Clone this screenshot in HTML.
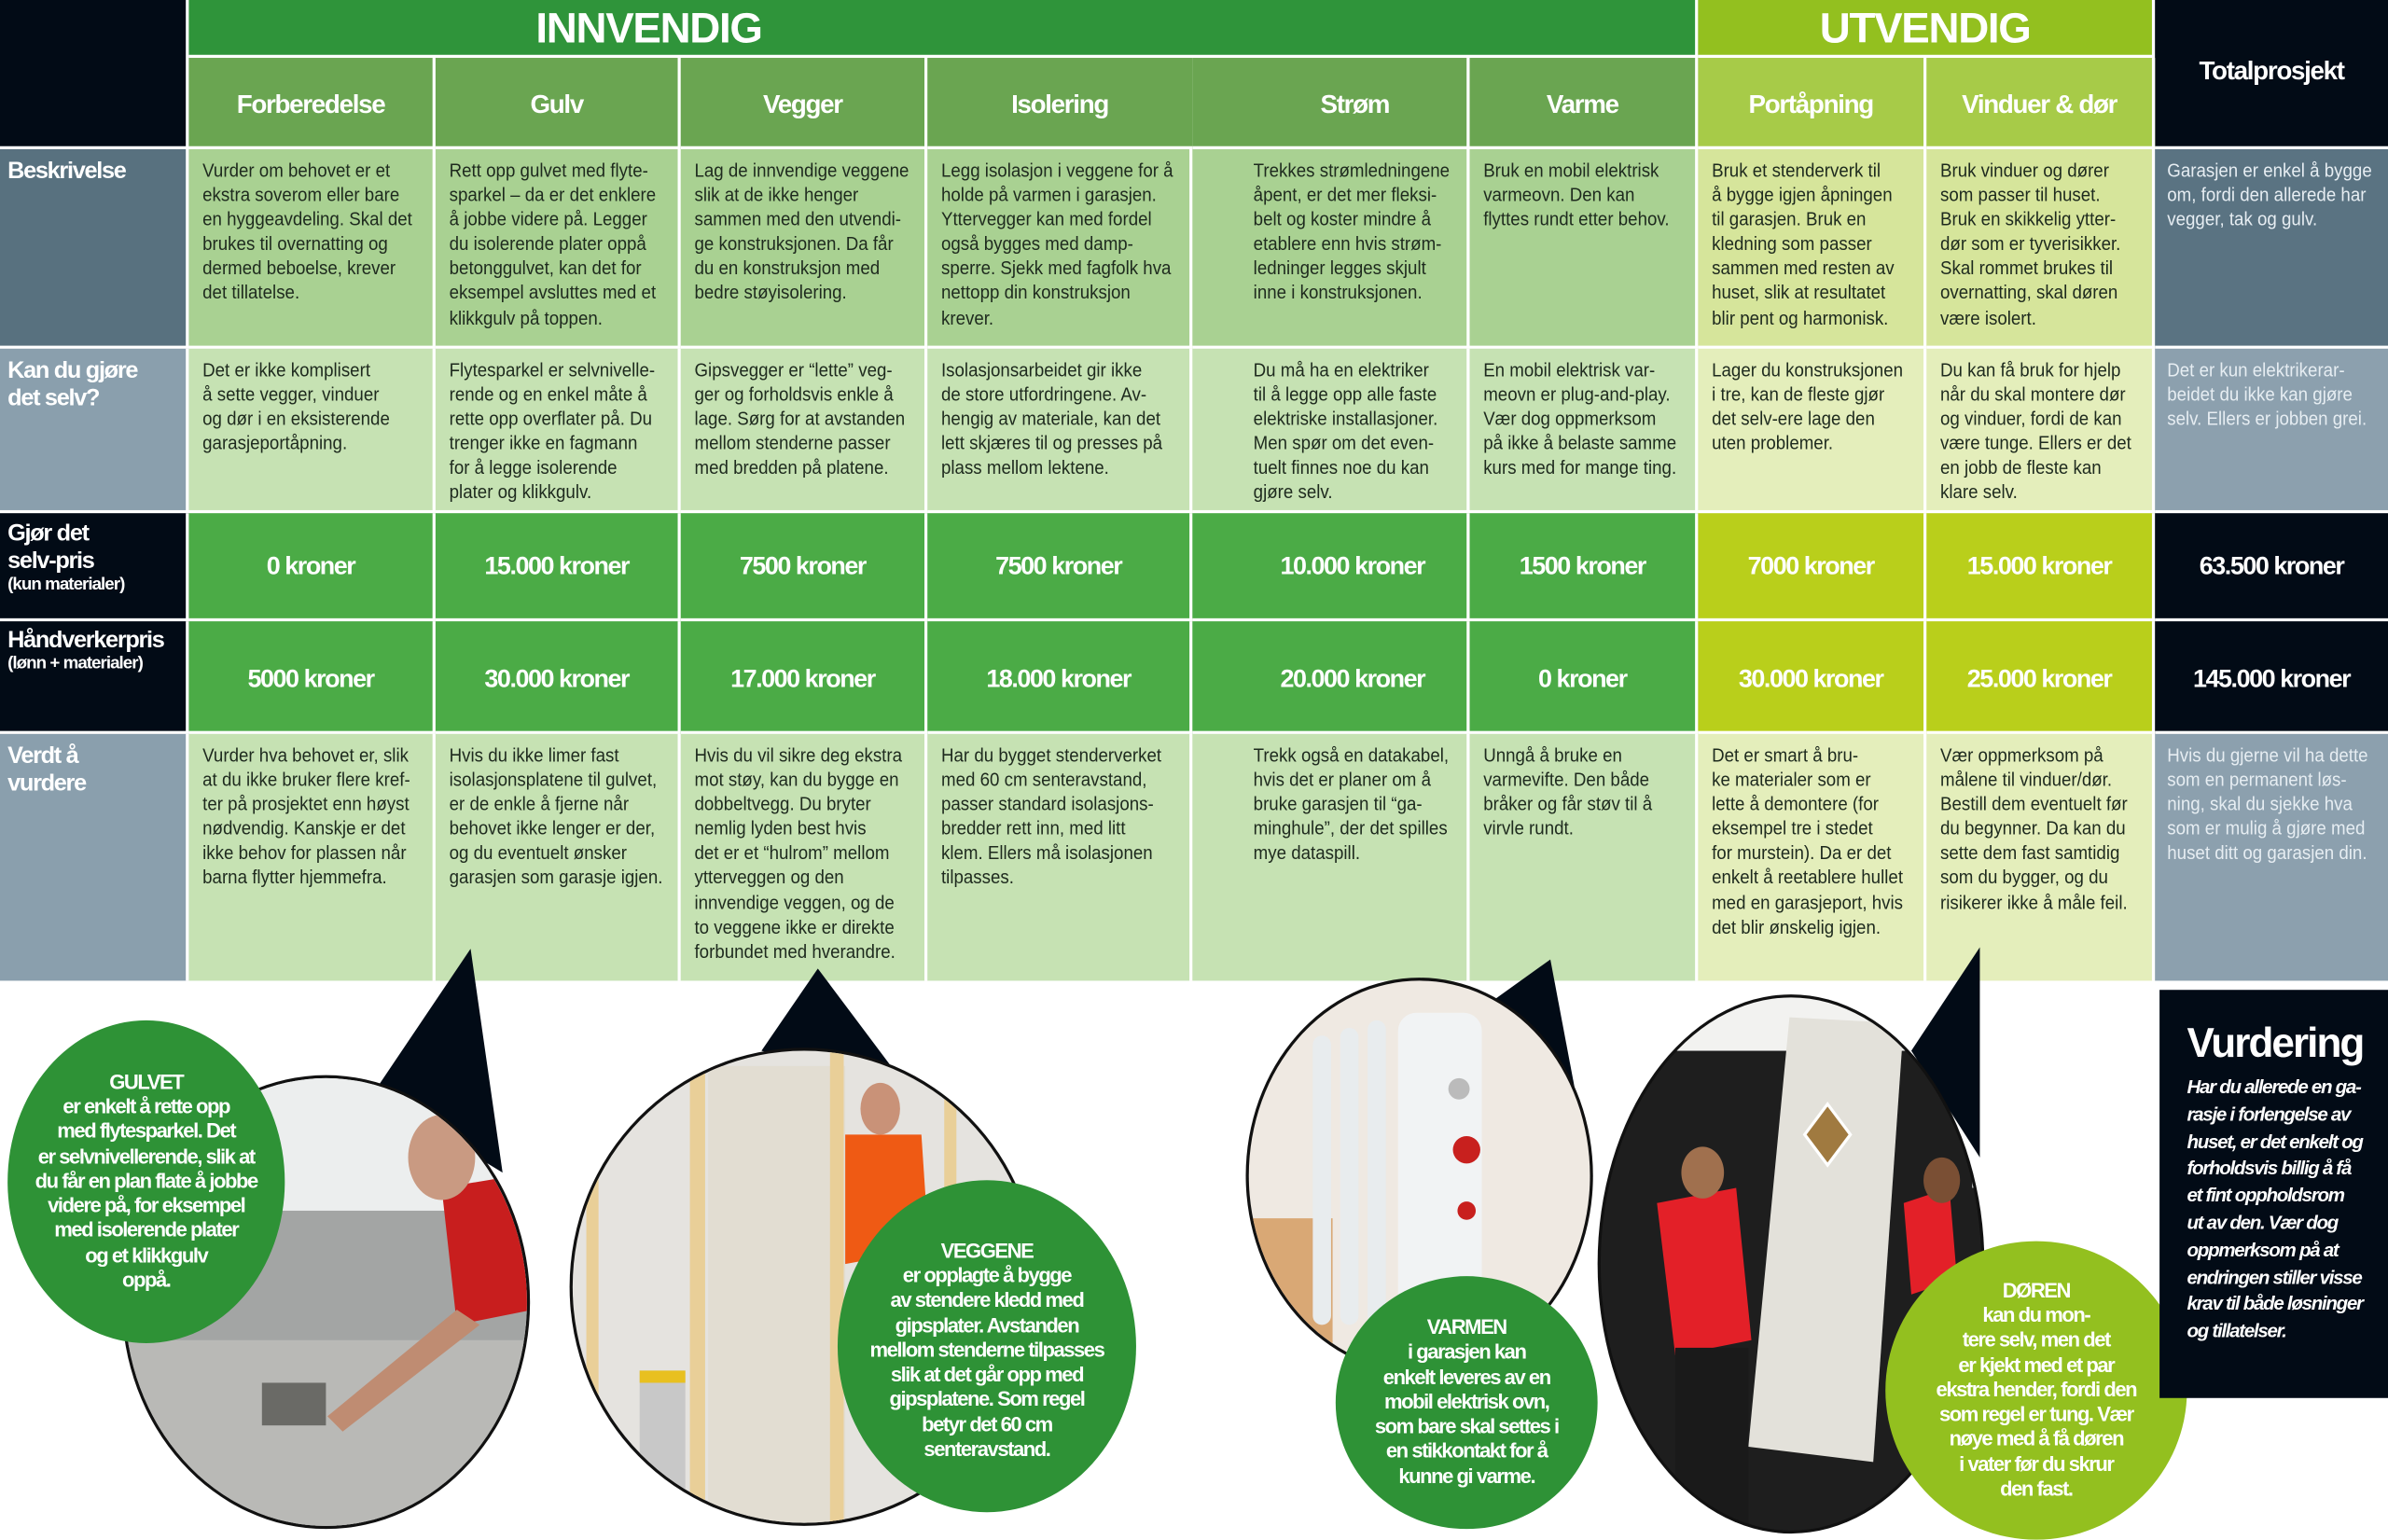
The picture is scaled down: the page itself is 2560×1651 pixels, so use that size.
<!DOCTYPE html>
<html><head><meta charset="utf-8">
<style>
html,body{margin:0;padding:0;background:#fff;}
body{width:2560px;height:1649px;overflow:hidden;position:relative;}
#w{position:absolute;left:0;top:0;width:1568px;height:1010px;transform:scale(1.63265);transform-origin:0 0;font-family:"Liberation Sans",sans-serif;}
.c{position:absolute;box-sizing:border-box;border-right:2px solid #fff;border-bottom:2px solid #fff;overflow:hidden;}
.t{font-size:12.6px;line-height:16.1px;color:#1e2a1e;padding:6px 0 0 9px;white-space:nowrap;}
.tw{font-size:12.6px;line-height:16.1px;color:#e6edf2;padding:6px 0 0 8px;white-space:nowrap;}
.s{display:inline-block;transform:scaleX(0.91);transform-origin:0 0;}
.h{color:#fff;font-weight:bold;font-size:17px;text-align:center;letter-spacing:-0.8px;}
.p{color:#fff;font-weight:bold;font-size:16.5px;text-align:center;letter-spacing:-0.9px;}
.l{color:#fff;font-weight:bold;font-size:15.5px;line-height:18px;padding:6px 0 0 5px;letter-spacing:-0.8px;}
.l small{font-size:11.5px;display:block;line-height:13px;letter-spacing:-0.6px;}
.bub{position:absolute;border-radius:50%;color:#fff;font-weight:bold;text-align:center;font-size:13.5px;line-height:16.3px;display:flex;flex-direction:column;justify-content:center;letter-spacing:-0.9px;}
</style></head><body><div id="w">

<div class="c" style="left:0;top:0;width:124px;height:98px;background:#020b16"></div>
<div class="c h" style="left:124px;top:0;width:991px;height:38px;background:#2f943a;font-size:28px;line-height:38px;padding-right:385px;">INNVENDIG</div>
<div class="c h" style="left:1115px;top:0;width:300px;height:38px;background:#93c01f;font-size:28px;line-height:38px;">UTVENDIG</div>
<div class="c h" style="left:1415px;top:0;width:153px;height:98px;background:#020b16;border-right:0;line-height:94px;">Totalprosjekt</div>

<div class="c h" style="left:124px;top:38px;width:162px;height:60px;line-height:62px;background:#6aa551">Forberedelse</div>
<div class="c h" style="left:286px;top:38px;width:161px;height:60px;line-height:62px;background:#6aa551">Gulv</div>
<div class="c h" style="left:447px;top:38px;width:162px;height:60px;line-height:62px;background:#6aa551">Vegger</div>
<div class="c h" style="left:609px;top:38px;width:174px;height:60px;line-height:62px;background:#6aa551;border-right:0;text-align:left;padding-left:55px">Isolering</div>
<div class="c h" style="left:783px;top:38px;width:182px;height:60px;line-height:62px;background:#6aa551;text-align:left;padding-left:84px">Strøm</div>
<div class="c h" style="left:965px;top:38px;width:150px;height:60px;line-height:62px;background:#6aa551">Varme</div>
<div class="c h" style="left:1115px;top:38px;width:150px;height:60px;line-height:62px;background:#a7cb48">Portåpning</div>
<div class="c h" style="left:1265px;top:38px;width:150px;height:60px;line-height:62px;background:#a7cb48">Vinduer &amp; dør</div>

<div class="c l" style="left:0;top:98px;width:124px;height:131px;background:#58717f">Beskrivelse</div>
<div class="c t" style="left:124px;top:98px;width:162px;height:131px;background:#a9d192"><span class="s">Vurder om behovet er et<br>ekstra soverom eller bare<br>en hyggeavdeling. Skal det<br>brukes til overnatting og<br>dermed beboelse, krever<br>det tillatelse.</span></div>
<div class="c t" style="left:286px;top:98px;width:161px;height:131px;background:#a9d192"><span class="s">Rett opp gulvet med flyte-<br>sparkel – da er det enklere<br>å jobbe videre på. Legger<br>du isolerende plater oppå<br>betonggulvet, kan det for<br>eksempel avsluttes med et<br>klikkgulv på toppen.</span></div>
<div class="c t" style="left:447px;top:98px;width:162px;height:131px;background:#a9d192"><span class="s">Lag de innvendige veggene<br>slik at de ikke henger<br>sammen med den utvendi-<br>ge konstruksjonen. Da får<br>du en konstruksjon med<br>bedre støyisolering.</span></div>
<div class="c t" style="left:609px;top:98px;width:174px;height:131px;background:#a9d192"><span class="s">Legg isolasjon i veggene for å<br>holde på varmen i garasjen.<br>Yttervegger kan med fordel<br>også bygges med damp-<br>sperre. Sjekk med fagfolk hva<br>nettopp din konstruksjon<br>krever.</span></div>
<div class="c t" style="left:783px;top:98px;width:182px;height:131px;background:#a9d192;padding-left:40px"><span class="s">Trekkes strømledningene<br>åpent, er det mer fleksi-<br>belt og koster mindre å<br>etablere enn hvis strøm-<br>ledninger legges skjult<br>inne i konstruksjonen.</span></div>
<div class="c t" style="left:965px;top:98px;width:150px;height:131px;background:#a9d192"><span class="s">Bruk en mobil elektrisk<br>varmeovn. Den kan<br>flyttes rundt etter behov.</span></div>
<div class="c t" style="left:1115px;top:98px;width:150px;height:131px;background:#d6e59b"><span class="s">Bruk et stenderverk til<br>å bygge igjen åpningen<br>til garasjen. Bruk en<br>kledning som passer<br>sammen med resten av<br>huset, slik at resultatet<br>blir pent og harmonisk.</span></div>
<div class="c t" style="left:1265px;top:98px;width:150px;height:131px;background:#d6e59b"><span class="s">Bruk vinduer og dører<br>som passer til huset.<br>Bruk en skikkelig ytter-<br>dør som er tyverisikker.<br>Skal rommet brukes til<br>overnatting, skal døren<br>være isolert.</span></div>
<div class="c tw" style="left:1415px;top:98px;width:153px;height:131px;background:#5a7382;border-right:0"><span class="s">Garasjen er enkel å bygge<br>om, fordi den allerede har<br>vegger, tak og gulv.</span></div>

<div class="c l" style="left:0;top:229px;width:124px;height:108px;background:#8a9fad">Kan du gjøre<br>det selv?</div>
<div class="c t" style="left:124px;top:229px;width:162px;height:108px;background:#c6e2b3"><span class="s">Det er ikke komplisert<br>å sette vegger, vinduer<br>og dør i en eksisterende<br>garasjeportåpning.</span></div>
<div class="c t" style="left:286px;top:229px;width:161px;height:108px;background:#c6e2b3"><span class="s">Flytesparkel er selvnivelle-<br>rende og en enkel måte å<br>rette opp overflater på. Du<br>trenger ikke en fagmann<br>for å legge isolerende<br>plater og klikkgulv.</span></div>
<div class="c t" style="left:447px;top:229px;width:162px;height:108px;background:#c6e2b3"><span class="s">Gipsvegger er “lette” veg-<br>ger og forholdsvis enkle å<br>lage. Sørg for at avstanden<br>mellom stenderne passer<br>med bredden på platene.</span></div>
<div class="c t" style="left:609px;top:229px;width:174px;height:108px;background:#c6e2b3"><span class="s">Isolasjonsarbeidet gir ikke<br>de store utfordringene. Av-<br>hengig av materiale, kan det<br>lett skjæres til og presses på<br>plass mellom lektene.</span></div>
<div class="c t" style="left:783px;top:229px;width:182px;height:108px;background:#c6e2b3;padding-left:40px"><span class="s">Du må ha en elektriker<br>til å legge opp alle faste<br>elektriske installasjoner.<br>Men spør om det even-<br>tuelt finnes noe du kan<br>gjøre selv.</span></div>
<div class="c t" style="left:965px;top:229px;width:150px;height:108px;background:#c6e2b3"><span class="s">En mobil elektrisk var-<br>meovn er plug-and-play.<br>Vær dog oppmerksom<br>på ikke å belaste samme<br>kurs med for mange ting.</span></div>
<div class="c t" style="left:1115px;top:229px;width:150px;height:108px;background:#e4eebb"><span class="s">Lager du konstruksjonen<br>i tre, kan de fleste gjør<br>det selv-ere lage den<br>uten problemer.</span></div>
<div class="c t" style="left:1265px;top:229px;width:150px;height:108px;background:#e4eebb"><span class="s">Du kan få bruk for hjelp<br>når du skal montere dør<br>og vinduer, fordi de kan<br>være tunge. Ellers er det<br>en jobb de fleste kan<br>klare selv.</span></div>
<div class="c tw" style="left:1415px;top:229px;width:153px;height:108px;background:#8ca0ae;border-right:0"><span class="s">Det er kun elektrikerar-<br>beidet du ikke kan gjøre<br>selv. Ellers er jobben grei.</span></div>

<div class="c l" style="left:0;top:337px;width:124px;height:71px;background:#020b16;padding-top:5px">Gjør det<br>selv-pris<small>(kun materialer)</small></div>
<div class="c p" style="left:124px;top:337px;width:162px;height:71px;line-height:71px;background:#4bab46">0 kroner</div>
<div class="c p" style="left:286px;top:337px;width:161px;height:71px;line-height:71px;background:#4bab46">15.000 kroner</div>
<div class="c p" style="left:447px;top:337px;width:162px;height:71px;line-height:71px;background:#4bab46">7500 kroner</div>
<div class="c p" style="left:609px;top:337px;width:174px;height:71px;line-height:71px;background:#4bab46">7500 kroner</div>
<div class="c p" style="left:783px;top:337px;width:182px;height:71px;line-height:71px;background:#4bab46;padding-left:30px">10.000 kroner</div>
<div class="c p" style="left:965px;top:337px;width:150px;height:71px;line-height:71px;background:#4bab46">1500 kroner</div>
<div class="c p" style="left:1115px;top:337px;width:150px;height:71px;line-height:71px;background:#b9cf1b">7000 kroner</div>
<div class="c p" style="left:1265px;top:337px;width:150px;height:71px;line-height:71px;background:#b9cf1b">15.000 kroner</div>
<div class="c p" style="left:1415px;top:337px;width:153px;height:71px;line-height:71px;background:#020b16;border-right:0">63.500 kroner</div>

<div class="c l" style="left:0;top:408px;width:124px;height:74px;background:#020b16;padding-top:4px">Håndverkerpris<small>(lønn + materialer)</small></div>
<div class="c p" style="left:124px;top:408px;width:162px;height:74px;line-height:76px;background:#4bab46">5000 kroner</div>
<div class="c p" style="left:286px;top:408px;width:161px;height:74px;line-height:76px;background:#4bab46">30.000 kroner</div>
<div class="c p" style="left:447px;top:408px;width:162px;height:74px;line-height:76px;background:#4bab46">17.000 kroner</div>
<div class="c p" style="left:609px;top:408px;width:174px;height:74px;line-height:76px;background:#4bab46">18.000 kroner</div>
<div class="c p" style="left:783px;top:408px;width:182px;height:74px;line-height:76px;background:#4bab46;padding-left:30px">20.000 kroner</div>
<div class="c p" style="left:965px;top:408px;width:150px;height:74px;line-height:76px;background:#4bab46">0 kroner</div>
<div class="c p" style="left:1115px;top:408px;width:150px;height:74px;line-height:76px;background:#b9cf1b">30.000 kroner</div>
<div class="c p" style="left:1265px;top:408px;width:150px;height:74px;line-height:76px;background:#b9cf1b">25.000 kroner</div>
<div class="c p" style="left:1415px;top:408px;width:153px;height:74px;line-height:76px;background:#020b16;border-right:0">145.000 kroner</div>

<div class="c l" style="left:0;top:482px;width:124px;height:162px;background:#8a9fad;border-bottom:0">Verdt å<br>vurdere</div>
<div class="c t" style="left:124px;top:482px;width:162px;height:162px;background:#c6e2b3;border-bottom:0"><span class="s">Vurder hva behovet er, slik<br>at du ikke bruker flere kref-<br>ter på prosjektet enn høyst<br>nødvendig. Kanskje er det<br>ikke behov for plassen når<br>barna flytter hjemmefra.</span></div>
<div class="c t" style="left:286px;top:482px;width:161px;height:162px;background:#c6e2b3;border-bottom:0"><span class="s">Hvis du ikke limer fast<br>isolasjonsplatene til gulvet,<br>er de enkle å fjerne når<br>behovet ikke lenger er der,<br>og du eventuelt ønsker<br>garasjen som garasje igjen.</span></div>
<div class="c t" style="left:447px;top:482px;width:162px;height:162px;background:#c6e2b3;border-bottom:0"><span class="s">Hvis du vil sikre deg ekstra<br>mot støy, kan du bygge en<br>dobbeltvegg. Du bryter<br>nemlig lyden best hvis<br>det er et “hulrom” mellom<br>ytterveggen og den<br>innvendige veggen, og de<br>to veggene ikke er direkte<br>forbundet med hverandre.</span></div>
<div class="c t" style="left:609px;top:482px;width:174px;height:162px;background:#c6e2b3;border-bottom:0"><span class="s">Har du bygget stenderverket<br>med 60 cm senteravstand,<br>passer standard isolasjons-<br>bredder rett inn, med litt<br>klem. Ellers må isolasjonen<br>tilpasses.</span></div>
<div class="c t" style="left:783px;top:482px;width:182px;height:162px;background:#c6e2b3;border-bottom:0;padding-left:40px"><span class="s">Trekk også en datakabel,<br>hvis det er planer om å<br>bruke garasjen til “ga-<br>minghule”, der det spilles<br>mye dataspill.</span></div>
<div class="c t" style="left:965px;top:482px;width:150px;height:162px;background:#c6e2b3;border-bottom:0"><span class="s">Unngå å bruke en<br>varmevifte. Den både<br>bråker og får støv til å<br>virvle rundt.</span></div>
<div class="c t" style="left:1115px;top:482px;width:150px;height:162px;background:#e4eebb;border-bottom:0"><span class="s">Det er smart å bru-<br>ke materialer som er<br>lette å demontere (for<br>eksempel tre i stedet<br>for murstein). Da er det<br>enkelt å reetablere hullet<br>med en garasjeport, hvis<br>det blir ønskelig igjen.</span></div>
<div class="c t" style="left:1265px;top:482px;width:150px;height:162px;background:#e4eebb;border-bottom:0"><span class="s">Vær oppmerksom på<br>målene til vinduer/dør.<br>Bestill dem eventuelt før<br>du begynner. Da kan du<br>sette dem fast samtidig<br>som du bygger, og du<br>risikerer ikke å måle feil.</span></div>
<div class="c tw" style="left:1415px;top:482px;width:153px;height:162px;background:#8ca0ae;border-right:0;border-bottom:0"><span class="s">Hvis du gjerne vil ha dette<br>som en permanent løs-<br>ning, skal du sjekke hva<br>som er mulig å gjøre med<br>huset ditt og garasjen din.</span></div>

<svg style="position:absolute;left:0;top:0" width="1568" height="1010" viewBox="0 0 1568 1010">
<defs>
<clipPath id="e1"><ellipse cx="214" cy="855" rx="132" ry="147"/></clipPath>
<clipPath id="e2"><ellipse cx="528" cy="845" rx="152" ry="155"/></clipPath>
<clipPath id="e3"><ellipse cx="932" cy="772" rx="112" ry="128"/></clipPath>
<clipPath id="e4"><ellipse cx="1176" cy="830" rx="125" ry="175"/></clipPath>
</defs>
<polygon points="309,623 245,718 330,770" fill="#020b16"/>
<polygon points="537,636 500,690 600,720" fill="#020b16"/>
<polygon points="1018,630 965,668 1035,720" fill="#020b16"/>
<polygon points="1300,622 1255,690 1300,760" fill="#020b16"/>
<ellipse cx="214" cy="855" rx="134" ry="149" fill="#111"/>
<g clip-path="url(#e1)">
<rect x="70" y="700" width="290" height="310" fill="#d9dcdc"/>
<rect x="70" y="700" width="290" height="95" fill="#eceeee"/>
<rect x="70" y="795" width="290" height="220" fill="#a3a5a4"/>
<rect x="70" y="880" width="290" height="130" fill="#b9b9b6"/>
<path d="M290,780 L350,770 L350,860 L300,870 Z" fill="#c81e1e"/>
<ellipse cx="290" cy="760" rx="22" ry="28" fill="#c99a82"/>
<path d="M300,860 L215,930 L225,940 L315,870 Z" fill="#bf8c72"/>
<rect x="172" y="908" width="42" height="28" fill="#6a6a66"/>
</g>
<ellipse cx="528" cy="845" rx="154" ry="157" fill="#111"/>
<g clip-path="url(#e2)">
<rect x="370" y="685" width="320" height="320" fill="#e5e3df"/>
<rect x="465" y="700" width="90" height="305" fill="#e2ddd2"/>
<rect x="453" y="690" width="10" height="320" fill="#e9cf98"/>
<rect x="545" y="690" width="9" height="320" fill="#e9cf98"/>
<rect x="385" y="690" width="8" height="320" fill="#e9cf98"/>
<rect x="620" y="690" width="8" height="320" fill="#e9cf98"/>
<path d="M555,745 L605,745 L610,820 L555,830 Z" fill="#ef5a14"/>
<ellipse cx="578" cy="728" rx="13" ry="17" fill="#c99278"/>
<rect x="420" y="900" width="30" height="80" fill="#c8c8c8"/>
<rect x="420" y="900" width="30" height="8" fill="#e8c020"/>
</g>
<ellipse cx="932" cy="772" rx="114" ry="130" fill="#111"/>
<g clip-path="url(#e3)">
<rect x="815" y="640" width="240" height="270" fill="#efe9e2"/>
<rect x="815" y="800" width="60" height="110" fill="#d9a875"/>
<rect x="862" y="680" width="12" height="190" rx="6" fill="#e8ecee"/>
<rect x="880" y="675" width="12" height="195" rx="6" fill="#e8ecee"/>
<rect x="898" y="670" width="12" height="200" rx="6" fill="#e8ecee"/>
<rect x="918" y="665" width="55" height="200" rx="12" fill="#f1f3f4"/>
<circle cx="963" cy="755" r="9" fill="#c8201e"/>
<circle cx="963" cy="795" r="6" fill="#c8201e"/>
<circle cx="958" cy="715" r="7" fill="#bbb"/>
</g>
<ellipse cx="1176" cy="830" rx="127" ry="177" fill="#111"/>
<g clip-path="url(#e4)">
<rect x="1045" y="650" width="265" height="360" fill="#1e1e1e"/>
<rect x="1045" y="650" width="265" height="40" fill="#f2f2f0"/>
<rect x="1295" y="700" width="50" height="80" fill="#e8ecec"/>
<polygon points="1175,668 1250,672 1230,960 1148,950" fill="#e3e1da"/>
<polygon points="1200,725 1215,745 1200,765 1185,745" fill="#a07a40" stroke="#fff" stroke-width="2"/>
<path d="M1088,790 L1140,780 L1150,880 L1100,890 Z" fill="#e32028"/>
<ellipse cx="1118" cy="770" rx="14" ry="17" fill="#a0704e"/>
<rect x="1100" y="885" width="48" height="125" fill="#1a1a1a"/>
<path d="M1250,790 L1280,780 L1285,840 L1255,850 Z" fill="#e32028"/>
<ellipse cx="1275" cy="775" rx="12" ry="15" fill="#7a4f34"/>
</g>
</svg>

<div class="bub" style="left:5px;top:670px;width:182px;height:212px;background:#2e9236;">GULVET<br>er enkelt å rette opp<br>med flytesparkel. Det<br>er selvnivellerende, slik at<br>du får en plan flate å jobbe<br>videre på, for eksempel<br>med isolerende plater<br>og et klikkgulv<br>oppå.</div>
<div class="bub" style="left:550px;top:775px;width:196px;height:218px;background:#2e9236;padding-top:6px;box-sizing:border-box">VEGGENE<br>er opplagte å bygge<br>av stendere kledd med<br>gipsplater. Avstanden<br>mellom stenderne tilpasses<br>slik at det går opp med<br>gipsplatene. Som regel<br>betyr det 60 cm<br>senteravstand.</div>
<div class="bub" style="left:877px;top:838px;width:172px;height:166px;background:#2e9236;">VARMEN<br>i garasjen kan<br>enkelt leveres av en<br>mobil elektrisk ovn,<br>som bare skal settes i<br>en stikkontakt for å<br>kunne gi varme.</div>
<div class="bub" style="left:1238px;top:815px;width:198px;height:196px;background:#93c01f;">DØREN<br>kan du mon-<br>tere selv, men det<br>er kjekt med et par<br>ekstra hender, fordi den<br>som regel er tung. Vær<br>nøye med å få døren<br>i vater før du skrur<br>den fast.</div>

<div style="position:absolute;left:1418px;top:650px;width:150px;height:268px;background:#020b16;color:#fff;box-sizing:border-box;padding:18px 0 0 18px;">
<div style="font-weight:bold;font-size:27px;letter-spacing:-1.2px;line-height:34px;">Vurdering</div>
<div style="font-weight:bold;font-style:italic;font-size:12.6px;line-height:17.8px;margin-top:4px;letter-spacing:-0.8px;white-space:nowrap">Har du allerede en ga-<br>rasje i forlengelse av<br>huset, er det enkelt og<br>forholdsvis billig å få<br>et fint oppholdsrom<br>ut av den. Vær dog<br>oppmerksom på at<br>endringen stiller visse<br>krav til både løsninger<br>og tillatelser.</div>
</div>

</div></body></html>
